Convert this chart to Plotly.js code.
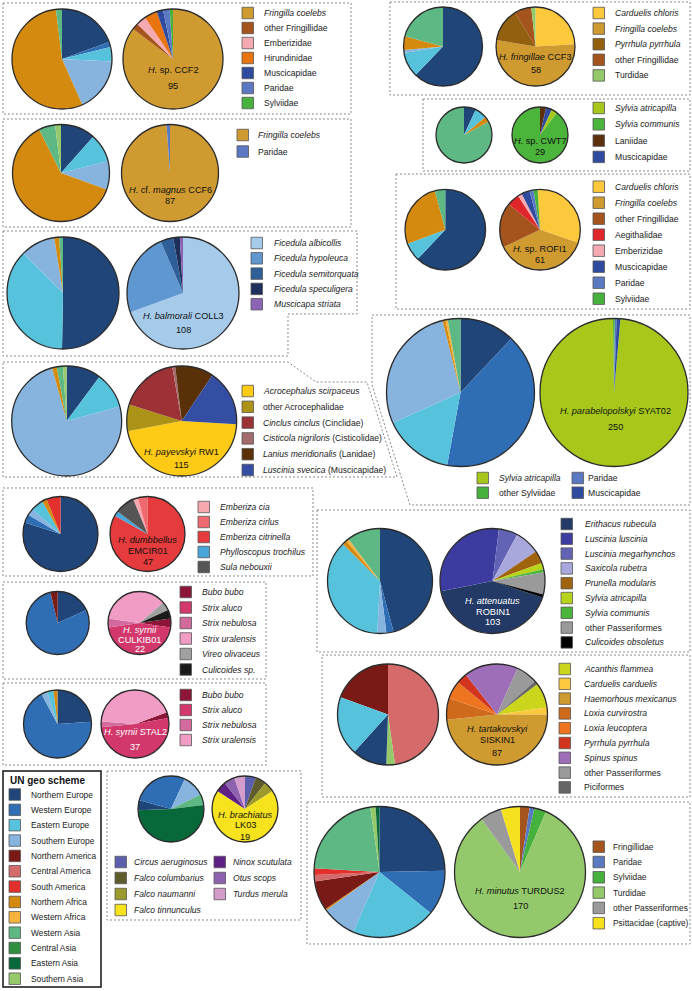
<!DOCTYPE html>
<html><head><meta charset="utf-8">
<script src="https://cdn.plot.ly/plotly-3.0.1.min.js"></script>
<style>html,body{margin:0;padding:0;background:#fff}#chart{width:692px;height:991px}</style>
</head><body><div id="chart"></div>
<script>
const W = 692, H = 991;
const FONT = 'Liberation Sans, Arial, sans-serif';

// ---------- UN geo scheme regions ----------
const geoRegions = ['Northern Europe','Western Europe','Eastern Europe','Southern Europe','Northern America','Central America','South America','Northern Africa','Western Africa','Western Asia','Central Asia','Eastern Asia','Southern Asia'];

// ---------- data (geo shares read as angles, host counts) ----------
const ccf2GeoRegions = ['Northern Europe','Western Europe','Eastern Europe','Southern Europe','Northern Africa','Western Asia'];
const ccf2GeoShares = [70, 6, 17, 63, 197, 7];
const ccf2HostTaxa = ['Fringilla coelebs','other Fringillidae','Emberizidae','Hirundinidae','Muscicapidae','Paridae','Sylviidae'];
const ccf2HostCounts = [81, 2, 3, 4, 2, 2, 1];

const ccf6GeoRegions = ['Northern Europe','Eastern Europe','Southern Europe','Northern Africa','Western Asia','Southern Asia'];
const ccf6GeoShares = [41.6, 34.4, 34, 223.4, 19.6, 7];
const ccf6HostTaxa = ['Fringilla coelebs','Paridae'];
const ccf6HostCounts = [86, 1];

const coll3GeoRegions = ['Northern Europe','Eastern Europe','Southern Europe','Northern Africa','Western Asia'];
const coll3GeoShares = [181, 134, 36, 5, 4];
const coll3HostTaxa = ['Ficedula albicollis','Ficedula hypoleuca','Ficedula semitorquata','Ficedula speculigera','Muscicapa striata'];
const coll3HostCounts = [75, 26, 4, 2, 1];

const rw1GeoRegions = ['Northern Europe','Eastern Europe','Southern Europe','Northern Africa','Western Asia','Southern Asia'];
const rw1GeoShares = [36.6, 38, 270, 5, 6.5, 3.9];
const rw1HostTaxa = ['Acrocephalus scirpaceus','other Acrocephalidae','Cinclus cinclus (Cinclidae)','Cisticola nigriloris (Cisticolidae)','Lanius meridionalis (Lanidae)','Luscinia svecica (Muscicapidae)'];
const rw1HostCounts = [53, 9, 20, 1, 13, 19];

const emcirGeoRegions = ['Northern Europe','Western Europe','Southern Europe','Eastern Europe','Northern Africa','South America'];
const emcirGeoShares = [287.7, 13, 10.8, 19.5, 7.3, 21.7];
const emcirHostTaxa = ['Emberiza cia','Emberiza cirlus','Emberiza citrinella','Phylloscopus trochilus','Sula nebouxii'];
const emcirHostCounts = [1, 2, 39, 1, 4];

const culkibGeoRegions = ['Northern Europe','Western Europe','Northern America'];
const culkibGeoShares = [65.6, 281, 13.4];
const culkibHostTaxa = ['Bubo bubo','Strix aluco','Strix nebulosa','Strix uralensis','Vireo olivaceus','Culicoides sp.'];
const culkibHostCounts = [1, 10, 1, 8, 1, 1];

const stal2GeoRegions = ['Northern Europe','Western Europe','Southern Europe','Eastern Europe','Northern Africa'];
const stal2GeoShares = [86, 245.8, 10.5, 10.7, 7];
const stal2HostTaxa = ['Bubo bubo','Strix aluco','Strix nebulosa','Strix uralensis'];
const stal2HostCounts = [1, 19, 1, 16];

const lk03GeoRegions = ['Northern Europe','Western Europe','Southern Europe','Western Asia','Eastern Asia'];
const lk03GeoShares = [17.6, 99.2, 39.2, 19, 185];
const lk03HostTaxa = ['Circus aeruginosus','Falco columbarius','Falco naumanni','Falco tinnunculus','Ninox scutulata','Otus scops','Turdus merula'];
const lk03HostCounts = [1, 1, 1, 13, 1, 1, 1];

const ccf3GeoRegions = ['Northern Europe','Eastern Europe','Southern Europe','Northern Africa','Western Asia'];
const ccf3GeoShares = [224, 36.5, 4.5, 20, 75];
const ccf3HostTaxa = ['Carduelis chloris','Fringilla coelebs','Pyrrhula pyrrhula','other Fringillidae','Turdidae'];
const ccf3HostCounts = [14, 31, 8, 4, 1];

const cwt7GeoRegions = ['Northern Europe','Eastern Europe','Northern Africa','Western Asia'];
const cwt7GeoShares = [25, 25, 12, 298];
const cwt7HostTaxa = ['Sylvia atricapilla','Sylvia communis','Laniidae','Muscicapidae'];
const cwt7HostCounts = [1, 26, 1, 1];

const rofi1GeoRegions = ['Northern Europe','Eastern Europe','Northern Africa','Western Asia'];
const rofi1GeoShares = [223.3, 26.4, 95.3, 15];
const rofi1HostTaxa = ['Carduelis chloris','Fringilla coelebs','other Fringillidae','Aegithalidae','Emberizidae','Muscicapidae','Paridae','Sylviidae'];
const rofi1HostCounts = [19, 23, 11, 3, 1, 2, 1, 1];

const syat02GeoRegions = ['Northern Europe','Western Europe','Eastern Europe','Southern Europe','Northern Africa','Western Africa','Western Asia'];
const syat02GeoShares = [43.3, 147.1, 55.5, 100.1, 2.3, 1.7, 10];
const syat02HostTaxa = ['Sylvia atricapilla','other Sylviidae','Paridae','Muscicapidae'];
const syat02HostCounts = [246, 1, 1, 2];

const robin1GeoRegions = ['Northern Europe','Western Europe','Southern Europe','Eastern Europe','Northern Africa','Western Africa','Western Asia'];
const robin1GeoShares = [165, 8, 10, 132, 5, 3, 37];
const robin1HostTaxa = ['Erithacus rubecula','Luscinia luscinia','Luscinia megarhynchos','Saxicola rubetra','Prunella modularis','Sylvia atricapilla','Sylvia communis','other Passeriformes','Culicoides obsoletus'];
const robin1HostCounts = [43, 31, 6, 8, 4, 2, 1, 7, 1];

const siskin1GeoRegions = ['Northern America','Central America','Southern Asia','Northern Europe','Eastern Europe'];
const siskin1GeoShares = [70, 172, 10, 40, 68];
const siskin1HostTaxa = ['Acanthis flammea','Carduelis carduelis','Haemorhous mexicanus','Loxia curvirostra','Loxia leucoptera','Pyrrhula pyrrhula','Spinus spinus','other Passeriformes','Piciformes'];
const siskin1HostCounts = [7, 2, 42, 6, 5, 3, 15, 6, 1];

const turdus2GeoRegions = ['Northern Europe','Western Europe','Eastern Europe','Southern Europe','Northern Africa','Northern America','Central America','South America','Western Asia','Southern Asia','Eastern Asia'];
const turdus2GeoShares = [88.9, 39.9, 74.9, 30.6, 1.2, 26.2, 5.7, 5.8, 78.7, 4.7, 3.4];
const turdus2HostTaxa = ['Fringillidae','Paridae','Sylviidae','Turdidae','other Passeriformes','Psittacidae (captive)'];
const turdus2HostCounts = [4, 2, 5, 142, 9, 8];

// ---------- styles ----------
const geoColors = {
  'Northern Europe':'#1f4579','Western Europe':'#2f6db4','Eastern Europe':'#56c2dc','Southern Europe':'#86b4de',
  'Northern America':'#7a1a16','Central America':'#d46a6a','South America':'#e2302d','Northern Africa':'#d4890f',
  'Western Africa':'#f8b33f','Western Asia':'#5db884','Central Asia':'#2f8f3f','Eastern Asia':'#07693a','Southern Asia':'#95c96b'
};
const hostColors = {
  'Fringilla coelebs':'#cf9a30','other Fringillidae':'#a4541c','Emberizidae':'#f5aab2','Hirundinidae':'#e8740f',
  'Muscicapidae':'#2f4ba0','Paridae':'#5b79c3','Sylviidae':'#46b13c','Carduelis chloris':'#fdc93c',
  'Pyrrhula pyrrhula':'#93600f','Turdidae':'#93c96a','Sylvia atricapilla':'#a7c81b','Sylvia communis':'#4bb43a',
  'Laniidae':'#5c300c','Aegithalidae':'#e0262a','Ficedula albicollis':'#a6cbea','Ficedula hypoleuca':'#5f97d0',
  'Ficedula semitorquata':'#2f5f98','Ficedula speculigera':'#1d2f5a','Muscicapa striata':'#8c64b5',
  'Acrocephalus scirpaceus':'#fdca15','other Acrocephalidae':'#ac9318','Cinclus cinclus (Cinclidae)':'#9c3136',
  'Cisticola nigriloris (Cisticolidae)':'#a36b6d','Lanius meridionalis (Lanidae)':'#5a3008','Luscinia svecica (Muscicapidae)':'#334ea3',
  'other Sylviidae':'#46b13c','Emberiza cia':'#f6a8ae','Emberiza cirlus':'#ee6a6e','Emberiza citrinella':'#e53b3c',
  'Phylloscopus trochilus':'#48a6d8','Sula nebouxii':'#555555','Bubo bubo':'#8c1538','Strix aluco':'#d2386c',
  'Strix nebulosa':'#d36a9e','Strix uralensis':'#f09cc4','Vireo olivaceus':'#a0a0a0','Culicoides sp.':'#1a1a1a',
  'Erithacus rubecula':'#233a66','Luscinia luscinia':'#3c3b9f','Luscinia megarhynchos':'#6363b5','Saxicola rubetra':'#a9a8dc',
  'Prunella modularis':'#a0640f','other Passeriformes':'#9a9a9a','Culicoides obsoletus':'#000000',
  'Acanthis flammea':'#cad51c','Carduelis carduelis':'#fdc93c','Haemorhous mexicanus':'#cf9a30','Loxia curvirostra':'#cf6a1b',
  'Loxia leucoptera':'#ee7420','Spinus spinus':'#9f6eb9','Piciformes':'#666666','Circus aeruginosus':'#5c5fae',
  'Falco columbarius':'#5f5c2b','Falco naumanni':'#9d9a2c','Falco tinnunculus':'#f6e21d','Ninox scutulata':'#5f2185',
  'Otus scops':'#8d62ae','Turdus merula':'#d49ccb','Fringillidae':'#a4541c','Psittacidae (captive)':'#f5e11d'
};
const hostColorOverride = { SISKIN1: {'Pyrrhula pyrrhula':'#d2351e'}, ROBIN1: {'Sylvia atricapilla':'#b8d41a'} };
const LEG = 8.6;   // legend font size
const LBL = 9.2;   // pie label font size

// ---------- panel layout ----------
const panels = [
 {id:'CCF2', geo:[ccf2GeoRegions,ccf2GeoShares], host:[ccf2HostTaxa,ccf2HostCounts], gc:[62,59], hc:[173,59], r:50, geoRot:0, hostRot:0,
  text:['<i>H.</i> sp. CCF2','95'], ty:[70,86], tc:'#111', leg:{cols:[{sx:242,tx:262,n:7}], y0:13, dy:15}},
 {id:'CCF6', geo:[ccf6GeoRegions,ccf6GeoShares], host:[ccf6HostTaxa,ccf6HostCounts], gc:[61,173], hc:[170,173], r:48.5, geoRot:0, hostRot:0,
  text:['<i>H.</i> cf. <i>magnus</i> CCF6','87'], ty:[190,201], tc:'#111', leg:{cols:[{sx:237,tx:256,n:2}], y0:135, dy:16.5}},
 {id:'COLL3', geo:[coll3GeoRegions,coll3GeoShares], host:[coll3HostTaxa,coll3HostCounts], gc:[63,293], hc:[183,293], r:56, geoRot:0, hostRot:0,
  text:['<i>H. balmorali</i> COLL3','108'], ty:[316,330], tc:'#111', leg:{cols:[{sx:251,tx:272,n:5}], y0:243, dy:15.3}},
 {id:'RW1', geo:[rw1GeoRegions,rw1GeoShares], host:[rw1HostTaxa,rw1HostCounts], gc:[66.7,421], hc:[181.7,421], r:55, geoRot:0, hostRot:93.4,
  text:['<i>H. payevskyi</i> RW1','115'], ty:[452,465], tc:'#111', leg:{cols:[{sx:242,tx:261,n:6}], y0:391, dy:15.8}},
 {id:'EMCIR01', geo:[emcirGeoRegions,emcirGeoShares], host:[emcirHostTaxa,emcirHostCounts], gc:[60.5,534], hc:[147.5,534], r:37.5, geoRot:0, hostRot:337.6,
  text:['<i>H. dumbbellus</i>','EMCIR01','47'], ty:[540,551,562], tc:'#111', leg:{cols:[{sx:198,tx:218,n:5}], y0:507, dy:15}},
 {id:'CULKIB01', geo:[culkibGeoRegions,culkibGeoShares], host:[culkibHostTaxa,culkibHostCounts], gc:[57.7,623], hc:[139.5,623], r:31.5, geoRot:0, hostRot:82,
  text:['<i>H. syrnii</i>','CULKIB01','22'], ty:[630,640,649], tc:'#ffffff', leg:{cols:[{sx:180,tx:200,n:6}], y0:592, dy:15.5}},
 {id:'STAL2', geo:[stal2GeoRegions,stal2GeoShares], host:[stal2HostTaxa,stal2HostCounts], gc:[57.5,724], hc:[135,724], r:34, geoRot:0, hostRot:70,
  text:['<i>H. syrnii</i> STAL2','37'], ty:[732,747], tc:'#ffffff', leg:{cols:[{sx:180,tx:200,n:4}], y0:695, dy:15}},
 {id:'LK03', geo:[lk03GeoRegions,lk03GeoShares], host:[lk03HostTaxa,lk03HostCounts], gc:[171,809], hc:[245,809], r:33, geoRot:268, hostRot:0,
  text:['<i>H. brachiatus</i>','LK03','19'], ty:[815,825,837], tc:'#111', leg:{cols:[{sx:115,tx:132,n:4},{sx:214,tx:231,n:3}], y0:862, dy:16}},
 {id:'CCF3', geo:[ccf3GeoRegions,ccf3GeoShares], host:[ccf3HostTaxa,ccf3HostCounts], gc:[443,46.5], hc:[535.5,46.5], r:39.5, geoRot:0, hostRot:0,
  text:['<i>H. fringillae</i> CCF3','58'], ty:[57,70], tc:'#111', leg:{cols:[{sx:593,tx:613,n:5}], y0:13, dy:15.6}},
 {id:'CWT7', geo:[cwt7GeoRegions,cwt7GeoShares], host:[cwt7HostTaxa,cwt7HostCounts], gc:[464,135], hc:[540,135], r:28, geoRot:0, hostRot:24.8,
  text:['<i>H.</i> sp. CWT7','29'], ty:[141,152], tc:'#111', leg:{cols:[{sx:593,tx:613,n:4}], y0:108, dy:16.3}},
 {id:'ROFI1', geo:[rofi1GeoRegions,rofi1GeoShares], host:[rofi1HostTaxa,rofi1HostCounts], gc:[445.3,229.7], hc:[540,229.7], r:40.3, geoRot:0, hostRot:356.6,
  text:['<i>H.</i> sp. ROFI1','61'], ty:[249,260], tc:'#111', leg:{cols:[{sx:593,tx:613,n:8}], y0:186.7, dy:16}},
 {id:'SYAT02', geo:[syat02GeoRegions,syat02GeoShares], host:[syat02HostTaxa,syat02HostCounts], gc:[460.5,392.5], hc:[614,392.5], r:74, geoRot:0, hostRot:5,
  text:['<i>H. parabelopolskyi</i> SYAT02','250'], ty:[411,427], tc:'#111', leg:{cols:[{sx:477,tx:497,n:2},{sx:572,tx:586,n:2}], y0:478, dy:14.7}},
 {id:'ROBIN1', geo:[robin1GeoRegions,robin1GeoShares], host:[robin1HostTaxa,robin1HostCounts], gc:[380,581], hc:[492.5,581], r:52.5, geoRot:0, hostRot:108.4,
  text:['<i>H. attenuatus</i>','ROBIN1','103'], ty:[601,612,622], tc:'#ffffff', leg:{cols:[{sx:561,tx:582.7,n:9}], y0:524, dy:14.8}},
 {id:'SISKIN1', geo:[siskin1GeoRegions,siskin1GeoShares], host:[siskin1HostTaxa,siskin1HostCounts], gc:[388,714.5], hc:[497,714.5], r:50.5, geoRot:290, hostRot:53,
  text:['<i>H. tartakovskyi</i>','SISKIN1','87'], ty:[729,739.5,753], tc:'#111', leg:{cols:[{sx:559,tx:581.7,n:9}], y0:669, dy:14.8}},
 {id:'TURDUS2', geo:[turdus2GeoRegions,turdus2GeoShares], host:[turdus2HostTaxa,turdus2HostCounts], gc:[379.5,872], hc:[520,872], r:65.5, geoRot:0, hostRot:0,
  text:['<i>H. minutus</i> TURDUS2','170'], ty:[891,906], tc:'#111', leg:{cols:[{sx:593,tx:611,n:6}], y0:846.7, dy:15.3}, legSize:8.4}
];

// dashed panel frames (pixel outlines)
const frames = [
 [[3,3],[351,3],[351,114],[3,114]],
 [[3,119],[351,119],[351,227],[3,227]],
 [[3,231],[357,231],[357,314],[288,314],[288,356],[3,356]],
 [[3,362],[288,362],[316,382],[367,382],[397,477],[3,477]],
 [[3,488],[313,488],[313,576],[3,576]],
 [[3,582],[266,582],[266,679],[3,679]],
 [[3,683],[266,683],[266,765],[3,765]],
 [[107,771],[301,771],[301,920],[107,920]],
 [[390,2],[690,2],[690,95],[390,95]],
 [[423,99],[690,99],[690,171],[423,171]],
 [[396,174],[690,174],[690,309],[396,309]],
 [[372,315],[690,315],[690,505],[410,505],[372,385]],
 [[317,510],[690,510],[690,652],[317,652]],
 [[322,655],[690,655],[690,797],[322,797]],
 [[307,802],[690,802],[690,944],[307,944]]
];

// ---------- helpers ----------
const fx = x => x / W, fy = y => 1 - y / H;
function fmtTaxon(t) {
  const m = t.match(/^(.*?)(\s\(.*\))?$/);
  const base = m[1], suf = m[2] || '';
  if (/^other\b/.test(base) || /(idae|iformes)$/.test(base)) return base + suf;
  return '<i>' + base + '</i>' + suf;
}
function ann(x, y, text, size, color, xanchor, bold) {
  return {xref:'paper', yref:'paper', x:fx(x), y:fy(y), text: bold ? '<b>'+text+'</b>' : text, showarrow:false,
    xanchor: xanchor || 'center', yanchor:'middle', font:{family:FONT, size:size, color:color}};
}
function pie(labels, values, colors, c, r, rot) {
  return {type:'pie', labels:labels, values:values, sort:false, direction:'clockwise', rotation:rot,
    marker:{colors:colors, line:{width:0}}, textinfo:'none', hoverinfo:'skip', showlegend:false,
    domain:{x:[fx(c[0]-r), fx(c[0]+r)], y:[fy(c[1]+r), fy(c[1]-r)]}};
}
function circle(c, r) {
  return {type:'circle', xref:'paper', yref:'paper', x0:fx(c[0]-r), x1:fx(c[0]+r), y0:fy(c[1]+r), y1:fy(c[1]-r),
    line:{color:'#2b2b2b', width:1.3}, fillcolor:'rgba(0,0,0,0)', layer:'above'};
}
function swatch(x, y, color) {
  const s = 11.5;
  return {type:'rect', xref:'paper', yref:'paper', x0:fx(x), x1:fx(x+s), y0:fy(y+s/2), y1:fy(y-s/2),
    fillcolor:color, line:{color:'#555', width:0.8}, layer:'above'};
}

const traces = [], shapes = [], annotations = [];

frames.forEach(pts => {
  const d = pts.map((p,i) => (i ? 'L' : 'M') + fx(p[0]).toFixed(5) + ',' + fy(p[1]).toFixed(5)).join(' ') + ' Z';
  shapes.push({type:'path', xref:'paper', yref:'paper', path:d, line:{color:'#8a8a8a', width:1, dash:'2px,2px'}, layer:'below'});
});

panels.forEach(p => {
  const [gl, gv] = p.geo, [hl, hv] = p.host;
  const ov = hostColorOverride[p.id] || {};
  const hcol = hl.map(t => ov[t] || hostColors[t]);
  traces.push(pie(gl, gv, gl.map(g => geoColors[g]), p.gc, p.r, p.geoRot));
  traces.push(pie(hl, hv, hcol, p.hc, p.r, p.hostRot));
  shapes.push(circle(p.gc, p.r), circle(p.hc, p.r));
  p.text.forEach((t, i) => annotations.push(ann(p.hc[0] + (p.id==='SYAT02'?1:0), p.ty[i], t, LBL, p.tc)));
  let k = 0;
  p.leg.cols.forEach(col => {
    for (let j = 0; j < col.n; j++, k++) {
      const y = p.leg.y0 + j * p.leg.dy;
      shapes.push(swatch(col.sx, y, hcol[k]));
      annotations.push(ann(col.tx, y, fmtTaxon(hl[k]), p.legSize || LEG, '#1a1a1a', 'left'));
    }
  });
});

// UN geo scheme legend
shapes.push({type:'rect', xref:'paper', yref:'paper', x0:fx(3), x1:fx(101), y0:fy(987), y1:fy(771), line:{color:'#111', width:1.5}, fillcolor:'rgba(0,0,0,0)', layer:'below'});
annotations.push(ann(8, 780.5, 'UN geo scheme', 10, '#111', 'left', true));
geoRegions.forEach((g, i) => {
  const y = 794.5 + i * 15.35;
  shapes.push(swatch(9, y, geoColors[g]));
  annotations.push(ann(28.5, y, g, 8.4, '#1a1a1a', 'left'));
});

Plotly.newPlot('chart', traces, {
  width:W, height:H, margin:{l:0,r:0,t:0,b:0}, paper_bgcolor:'#fff', plot_bgcolor:'#fff',
  showlegend:false, shapes:shapes, annotations:annotations, font:{family:FONT}
}, {staticPlot:true});
</script></body></html>
